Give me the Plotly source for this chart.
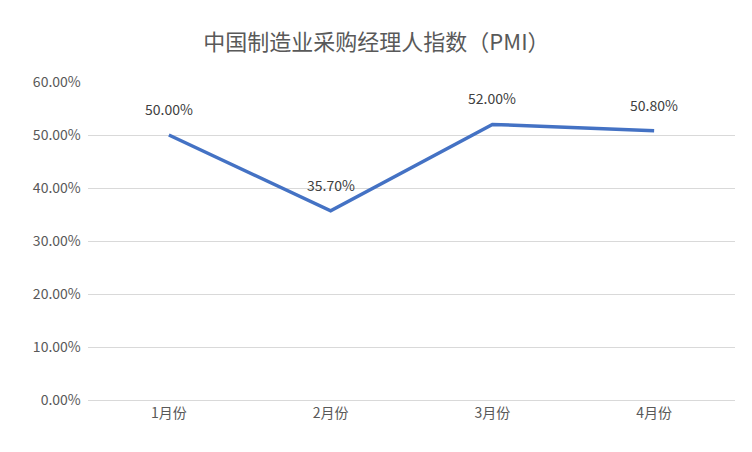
import plotly.graph_objects as go

months = ["1月份", "2月份", "3月份", "4月份"]
pmi = [0.50, 0.357, 0.52, 0.508]
labels = ["50.00%", "35.70%", "52.00%", "50.80%"]

font = "Noto Sans CJK SC"

fig = go.Figure()
fig.add_trace(go.Scatter(
    x=months, y=pmi, mode="lines",
    line=dict(color="#4472C4", width=3.5),
))
for m, v, t in zip(months, pmi, labels):
    fig.add_annotation(x=m, y=v, text=t, showarrow=False, yshift=26,
                       font=dict(size=14, color="#404040", family=font))
fig.update_layout(
    width=752, height=452,
    margin=dict(l=80, r=25, t=74, b=60),
    paper_bgcolor="white", plot_bgcolor="white",
    showlegend=False,
    title=dict(text="中国制造业采购经理人指数（PMI）", x=0.49, xanchor="center",
               y=0.925, yanchor="middle",
               font=dict(size=22, color="#595959", family=font)),
    font=dict(family=font, color="#595959", size=14),
)
fig.update_xaxes(range=[-0.5, 3.5], showgrid=False, showline=True,
                 linecolor="#d9d9d9", ticks="", tickfont=dict(size=14, color="#595959"))
fig.update_yaxes(range=[0, 0.6], dtick=0.1, tickformat=".2%", gridcolor="#d9d9d9",
                 zeroline=False, ticks="", ticksuffix="  ",
                 tickfont=dict(size=14, color="#595959"))
fig.write_html("out.html")
